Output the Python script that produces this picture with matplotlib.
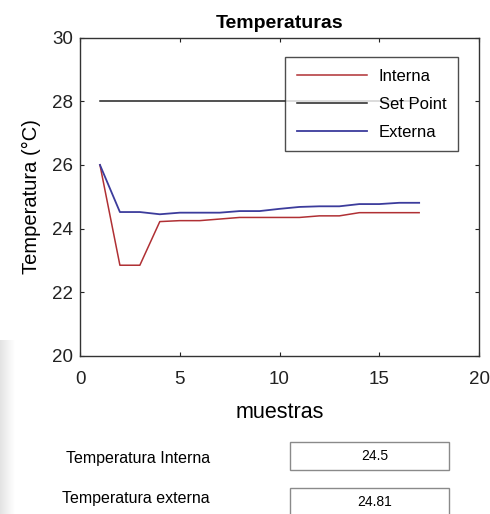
import numpy as np
import matplotlib.pyplot as plt
from matplotlib.patches import Rectangle

plt.rcParams['font.family'] = ['Liberation Sans', 'DejaVu Sans']

# data
muestras = list(range(1, 18))
interna = [26.0, 22.85, 22.85, 24.22, 24.25, 24.25, 24.3, 24.35, 24.35, 24.35,
           24.35, 24.4, 24.4, 24.5, 24.5, 24.5, 24.5]
externa = [26.0, 24.52, 24.52, 24.45, 24.5, 24.5, 24.5, 24.55, 24.55, 24.62,
           24.68, 24.7, 24.7, 24.77, 24.77, 24.81, 24.81]
set_point = [28.0] * len(muestras)

ultimo_interna = '24.5'
ultimo_externa = '24.81'

fig = plt.figure(figsize=(4.9, 5.14), dpi=100)

# faint grey band on the left edge of the screenshot
band = fig.add_axes([0, 0, 14 / 490, 174 / 514])
band.imshow(np.linspace(0.89, 1.0, 50)[None, :], cmap='gray', vmin=0, vmax=1,
            aspect='auto', extent=(0, 1, 0, 1))
band.axis('off')

ax = fig.add_axes([80 / 490, 1 - 356 / 514, 399 / 490, 318.5 / 514])

ax.plot(muestras, interna, color='#b03034', lw=1.1, label='Interna')
ax.plot(muestras, set_point, color='#222222', lw=1.1, label='Set Point')
ax.plot(muestras, externa, color='#3c3c9c', lw=1.3, label='Externa')

ax.set_xlim(0, 20)
ax.set_ylim(20, 30)
ax.set_xticks([0, 5, 10, 15, 20])
ax.set_yticks([20, 22, 24, 26, 28, 30])
ax.tick_params(direction='in', length=3, labelsize=13.5, colors='#222222',
               top=True, right=True)
ax.tick_params(axis='x', pad=11)
ax.tick_params(axis='y', pad=5)
for s in ax.spines.values():
    s.set_color('#333333')
    s.set_linewidth(1.0)

ax.set_title('Temperaturas', fontsize=14, fontweight='bold', pad=7)
ax.set_xlabel('muestras', fontsize=15.5, labelpad=10)
ax.set_ylabel('Temperatura (°C)', fontsize=14.5, labelpad=8)

leg = ax.legend(loc='upper right', bbox_to_anchor=(0.947, 0.939), fontsize=12,
                frameon=True, fancybox=False, edgecolor='#222222',
                handlelength=4.2, borderpad=0.7, labelspacing=0.78,
                handletextpad=0.7, borderaxespad=0)
leg.get_frame().set_linewidth(1.0)

# panel below the chart
fig.text(210 / 490, 1 - 458 / 514, 'Temperatura Interna', ha='right',
         va='center', fontsize=11.5)
fig.text(210 / 490, 1 - 498 / 514, 'Temperatura externa', ha='right',
         va='center', fontsize=11.5)

for y0, val in [(442, ultimo_interna), (488, ultimo_externa)]:
    fig.patches.append(Rectangle((290 / 490, 1 - (y0 + 28) / 514),
                                 159 / 490, 28 / 514,
                                 transform=fig.transFigure, fill=False,
                                 edgecolor='#8a8a8a', lw=1.0))
    fig.text(375 / 490, 1 - (y0 + 14) / 514, val, ha='center', va='center',
             fontsize=10)

fig.savefig('out.png', dpi=100)
